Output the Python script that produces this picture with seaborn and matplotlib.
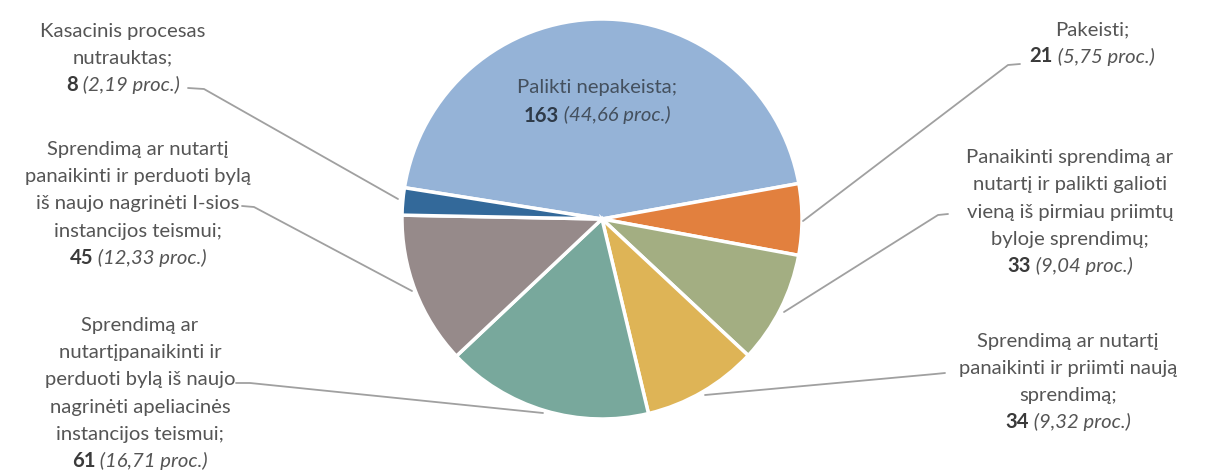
import matplotlib
matplotlib.use("Agg")
import matplotlib.pyplot as plt
import seaborn as sns

# ---- data ----
categories = [
    "Palikti nepakeista;",
    "Pakeisti;",
    "Panaikinti sprendimą ar\nnutartį ir palikti galioti\nvieną iš pirmiau priimtų\nbyloje sprendimų;",
    "Sprendimą ar nutartį\npanaikinti ir priimti naują\nsprendimą;",
    "Sprendimą ar\nnutartįpanaikinti ir\nperduoti bylą iš naujo\nnagrinėti apeliacinės\ninstancijos teismui;",
    "Sprendimą ar nutartį\npanaikinti ir perduoti bylą\niš naujo nagrinėti I-sios\ninstancijos teismui;",
    "Kasacinis procesas\nnutrauktas;",
]
counts = [163, 21, 33, 34, 61, 45, 8]
slice_colors = ["#95B3D7", "#E2803E", "#A3AE82", "#DEB456", "#78A89C", "#968A8A", "#33699A"]

# ---- style ----
sns.set_theme(style="white")
plt.rcParams["font.family"] = ["Lato", "DejaVu Sans"]

W, H = 1205, 475
FS = 14.6
fig = plt.figure(figsize=(W / 100, H / 100), dpi=100)
ax = fig.add_axes([0, 0, 1, 1])

palette = sns.color_palette(slice_colors)
ax.pie(counts, colors=palette, startangle=171, counterclock=False,
       center=(602, H - 219), radius=200,
       wedgeprops=dict(edgecolor="white", linewidth=2.5))
ax.set_xlim(0, W)
ax.set_ylim(0, H)
ax.set_aspect("equal")
ax.axis("off")

renderer = fig.canvas.get_renderer()
total = sum(counts)

# layout: (center x, first baseline y in px from top, line spacing, text colour, number colour)
layout = [
    (597, 93, 28.5, "#44505E", "#2E3A48"),
    (1092, 35, 27.5, "#555555", "#3A3A3A"),
    (1070, 163, 27.3, "#555555", "#3A3A3A"),
    (1068, 347, 27, "#555555", "#3A3A3A"),
    (140, 331, 27.2, "#555555", "#3A3A3A"),
    (138, 155, 27.2, "#555555", "#3A3A3A"),
    (123, 37, 26.8, "#555555", "#3A3A3A"),
]

for cat, cnt, (cx, y0, ls, col, ncol) in zip(categories, counts, layout):
    lines = cat.split("\n")
    for i, ln in enumerate(lines):
        ax.text(cx, H - (y0 + i * ls), ln, ha="center", va="baseline",
                fontsize=FS, color=col)
    yb = H - (y0 + len(lines) * ls)
    pct = f"{cnt / total * 100:.2f}".replace(".", ",")
    t1 = ax.text(0, yb, str(cnt), ha="left", va="baseline", fontsize=FS,
                 fontweight="bold", color=ncol)
    t2 = ax.text(0, yb, f" ({pct} proc.)", ha="left", va="baseline",
                 fontsize=FS, fontstyle="italic", color=col)
    w1 = t1.get_window_extent(renderer).width
    w2 = t2.get_window_extent(renderer).width
    start = cx - (w1 + w2) / 2
    t1.set_x(start)
    t2.set_x(start + w1)

# leader lines (pixel coords from top)
leaders = [
    [(1020, 64), (1008, 65), (803, 221)],
    [(948, 214), (938, 215), (784, 312)],
    [(945, 373), (935, 374), (705, 395)],
    [(236, 383), (250, 383), (543, 413)],
    [(242, 206), (254, 207), (412, 291)],
    [(188, 88), (204, 89), (398, 199)],
]
for pts in leaders:
    xs = [p[0] for p in pts]
    ys = [H - p[1] for p in pts]
    ax.plot(xs, ys, color="#A0A0A0", lw=1.3, solid_capstyle="round")

fig.savefig("out.png", dpi=100, facecolor="white")
